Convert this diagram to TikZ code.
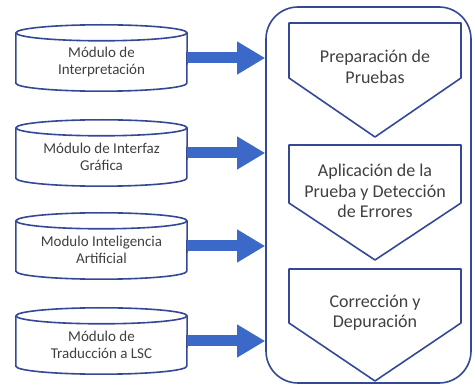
\documentclass[tikz,border=0pt]{standalone}
\usepackage{fontspec}
\setmainfont{Carlito}
\usetikzlibrary{arrows.meta}
\definecolor{edgeblue}{RGB}{52,72,150}
\definecolor{arrowblue}{RGB}{60,104,200}
\definecolor{txtgray}{RGB}{64,64,64}
\begin{document}
\begin{tikzpicture}[x=1pt,y=-1pt,
  outline/.style={draw=edgeblue,line width=1.6pt,line join=round},
  modbox/.style={minimum width=171pt,minimum height=66pt,inner sep=0pt},
  modtext/.style={align=center,text=txtgray,font=\fontsize{15}{17}\selectfont},
  stagetext/.style={align=center,text=txtgray,font=\fontsize{18}{20.5}\selectfont},
  flow/.style={draw=arrowblue,line width=11pt,
    -{Triangle[length=28pt,width=31pt]}},
]
\useasboundingbox (0,0) rectangle (475,385);

% outer container with rounded corners
\node[outline,rounded corners=32pt,minimum width=205pt,minimum height=376pt,
  inner sep=0pt] (box) at (368.5,195) {};

% stage chevrons
\draw[outline] (289,23) -- (461,23) -- (461,78) -- (375,137) -- (289,78) -- cycle;
\draw[outline] (289,145) -- (461,145) -- (461,203) -- (375,260) -- (289,203) -- cycle;
\draw[outline] (289,269) -- (461,269) -- (461,323) -- (375,381) -- (289,323) -- cycle;
\node[stagetext] (s1) at (375,67) {Preparación de\\Pruebas};
\node[stagetext] (s2) at (375,191) {Aplicación de la\\Prueba y Detección\\de Errores};
\node[stagetext] (s3) at (375,313) {Corrección y\\Depuración};

% module cylinders
\foreach \cy/\name/\label in {
  58/m1/{Módulo de\\Interpretación},
  153/m2/{Módulo de Interfaz\\Gráfica},
  246/m3/{Modulo Inteligencia\\Artificial},
  341/m4/{Módulo de\\Traducción a LSC}}{
  \node[modbox] (\name) at (101.5,\cy) {};
  \draw[outline] (\name.north) ++(0,8) ellipse [x radius=85.5pt,y radius=8pt];
  \draw[outline] (\name.north west) ++(0,8) -- ([yshift=8pt]\name.south west)
    arc[start angle=180,end angle=360,x radius=85.5pt,y radius=8pt]
    -- ([yshift=-8pt]\name.north east);
  \node[modtext] (\name t) at ([yshift=-4pt]\name.center) {\label};
}

% arrows into the container
\foreach \m in {m1,m2,m3,m4}
  \draw[flow] (\m.east) -- (\m.east -| box.west);
\end{tikzpicture}
\end{document}
